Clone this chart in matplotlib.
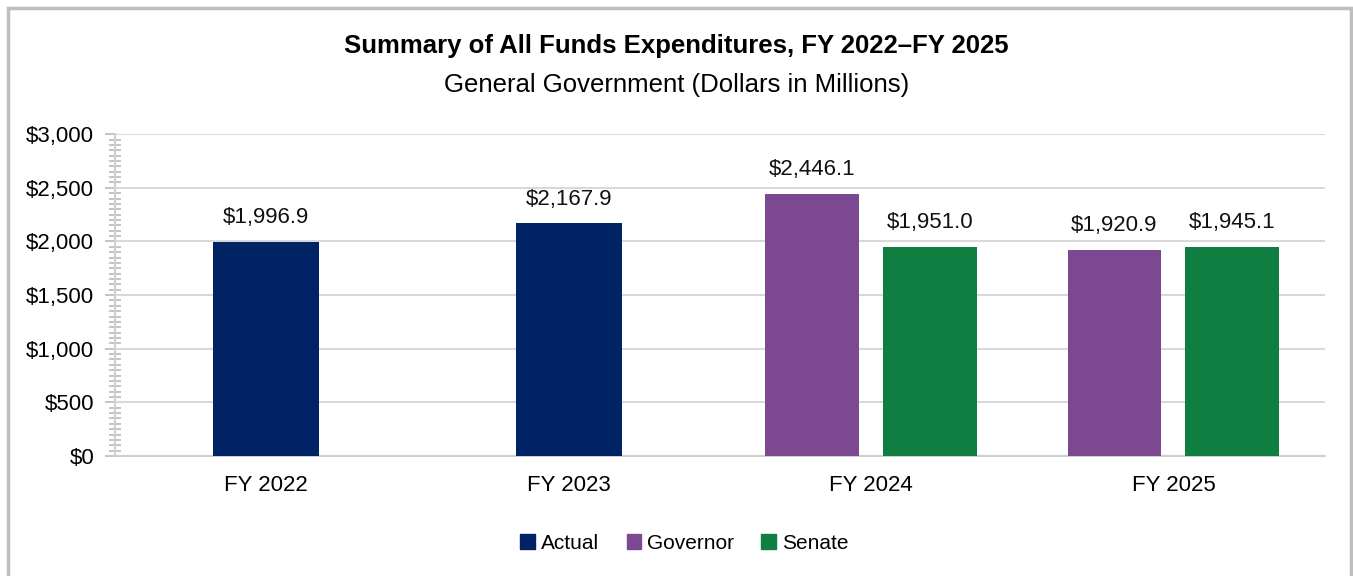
import numpy as np
import matplotlib.pyplot as plt
from matplotlib.patches import Rectangle
from matplotlib.ticker import MultipleLocator, FuncFormatter

plt.rcParams['font.family'] = ['Liberation Sans Narrow', 'Liberation Sans', 'DejaVu Sans']

# data
categories = ['FY 2022', 'FY 2023', 'FY 2024', 'FY 2025']
actual = [1996.9, 2167.9, None, None]
governor = [None, None, 2446.1, 1920.9]
senate = [None, None, 1951.0, 1945.1]

c_actual = '#002366'
c_gov = '#7B4891'
c_sen = '#107E41'

fig = plt.figure(figsize=(13.53, 5.76), dpi=100)
ax = fig.add_axes([0.085, 0.2083, 0.894, 0.5587])

x = np.arange(len(categories))

def label(xpos, val):
    ax.annotate(f'${val:,.1f}', (xpos, val), xytext=(0, 10), textcoords='offset points',
                ha='center', va='bottom', fontsize=16, color='#111111')

for i in x:
    if actual[i] is not None:
        ax.bar(i, actual[i], width=0.35, color=c_actual, zorder=3)
        label(i, actual[i])
    if governor[i] is not None:
        ax.bar(i - 0.195, governor[i], width=0.31, color=c_gov, zorder=3)
        label(i - 0.195, governor[i])
    if senate[i] is not None:
        ax.bar(i + 0.195, senate[i], width=0.31, color=c_sen, zorder=3)
        label(i + 0.195, senate[i])

ax.set_xlim(-0.5, len(categories) - 0.5)
ax.set_ylim(0, 3000)
ax.set_xticks(x)
ax.set_xticklabels(categories, fontsize=16)
ax.tick_params(axis='x', length=0, pad=14)

ax.yaxis.set_major_locator(MultipleLocator(500))
ax.yaxis.set_minor_locator(MultipleLocator(50))
ax.yaxis.set_major_formatter(FuncFormatter(lambda v, p: f'${v:,.0f}'))
ax.tick_params(axis='y', which='major', length=7, width=1.3, color='#BFBFBF',
               labelsize=16, pad=8)
ax.tick_params(axis='y', which='minor', length=8, width=1.3, color='#BFBFBF',
               direction='inout')

ax.grid(axis='y', color='#D9D9D9', linewidth=1.5, zorder=0)
for s in ['top', 'right']:
    ax.spines[s].set_visible(False)
for s in ['left', 'bottom']:
    ax.spines[s].set_color('#D0D0D0')
    ax.spines[s].set_linewidth(1.5)

# legend
handles = [Rectangle((0, 0), 1, 1, color=c) for c in (c_actual, c_gov, c_sen)]
fig.legend(handles, ['Actual', 'Governor', 'Senate'], loc='center',
           bbox_to_anchor=(0.506, 0.057), ncol=3, frameon=False, fontsize=15,
           handlelength=0.7, handleheight=0.7, handletextpad=0.3, columnspacing=1.3)

fig.text(0.5, 0.92, 'Summary of All Funds Expenditures, FY 2022\u2013FY 2025',
         ha='center', va='center', fontsize=18.5, fontweight='bold')
fig.text(0.5, 0.853, 'General Government (Dollars in Millions)',
         ha='center', va='center', fontsize=18.5)

# outer frame
fig.patches.append(Rectangle((7.5 / 1353, -0.05), 1343 / 1353, 1 - 7.5 / 576 + 0.05,
                             transform=fig.transFigure, fill=False,
                             edgecolor='#BFBFBF', linewidth=2.5))

fig.savefig('out.png', dpi=100, facecolor='white')
